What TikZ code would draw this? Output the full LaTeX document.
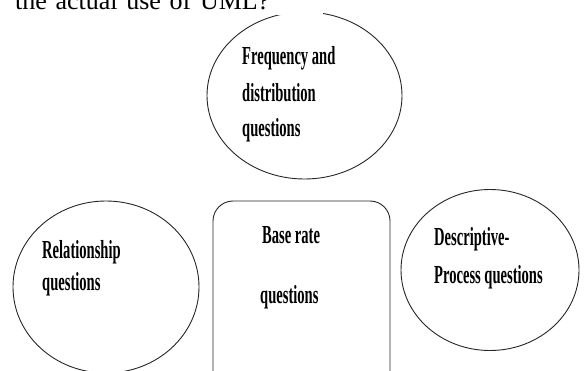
\documentclass[tikz,border=0pt]{standalone}
\usepackage{fontspec}
\setmainfont{Liberation Serif}
\newfontfamily\condbold[FakeStretch=0.56]{Liberation Serif}
\usetikzlibrary{shapes.geometric}
\begin{document}
\begin{tikzpicture}[x=1pt,y=-1pt,
  outline/.style={draw=black!85,line width=0.9pt},
  oval/.style={outline,ellipse,inner sep=0pt},
  label/.style={anchor=base west,inner sep=0pt,font=\condbold\bfseries\fontsize{26}{26}\selectfont}]
\useasboundingbox (0,0) rectangle (585,371);
\clip (0,0) rectangle (585,371);

% the four question groups
\node[oval,minimum width=195pt,minimum height=167pt] (freq) at (304.5,95.5) {};
\node[oval,minimum width=186pt,minimum height=172pt] (rel) at (106,287) {};
\node[oval,minimum width=178pt,minimum height=161pt] (desc) at (490,270) {};
\node[outline,rectangle,rounded corners=20pt,minimum width=177pt,minimum height=195pt,inner sep=0pt] (base) at (301.5,298.5) {};

% labels
\node[label] (freqA) at (242,65) {Frequency and};
\node[label] (freqB) at (242,102) {distribution};
\node[label] (freqC) at (242,137) {questions};

\node[label] (relA) at (42,258) {Relationship};
\node[label] (relB) at (42,290) {questions};

\node[label] (baseA) at (262,243) {Base rate};
\node[label] (baseB) at (260,303) {questions};

\node[label] (descA) at (434,245) {Descriptive-};
\node[label] (descB) at (434,283) {Process questions};

% preceding line of running text
\node[anchor=base west,fill=white,inner xsep=0pt,inner ysep=4.5pt,text width=308pt,align=left,
  font=\fontsize{26}{26}\selectfont] (lead) at (15,10) {the actual use of UML?};
\end{tikzpicture}
\end{document}
